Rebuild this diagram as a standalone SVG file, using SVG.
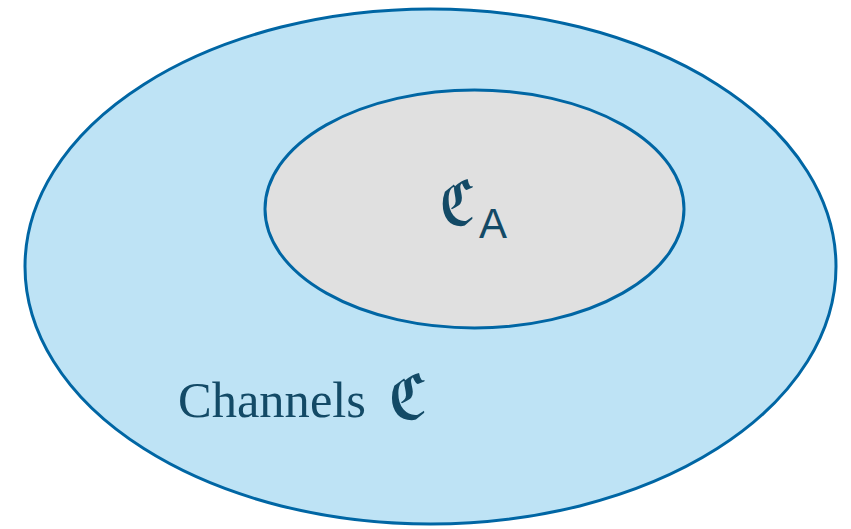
<svg xmlns="http://www.w3.org/2000/svg" width="851" height="529" viewBox="0 0 851 529">
<style>
.set{stroke:#0066a4;stroke-width:3}
.lbl{fill:#134a66}
.frak{font-family:"DejaVu Serif","DejaVu Sans",serif;font-size:62px;font-weight:bold}
.sub{font-family:"Liberation Sans",sans-serif;font-size:42px}
</style>
<rect width="851" height="529" fill="#ffffff"/>
<g id="channels">
<ellipse class="set" cx="430.5" cy="266.5" rx="405.5" ry="257.5" fill="#bee3f5"/>
<text class="lbl" x="178" y="417" font-family="Liberation Serif, serif" font-size="50" textLength="188" lengthAdjust="spacingAndGlyphs">Channels</text>
<text class="lbl frak" x="389" y="419" textLength="38" lengthAdjust="spacingAndGlyphs">ℭ</text>
</g>
<g id="channels-a">
<ellipse class="set" cx="474.5" cy="209" rx="209.5" ry="119" fill="#e0e0e0"/>
<text class="lbl frak" x="440" y="225" textLength="35" lengthAdjust="spacingAndGlyphs">ℭ</text>
<text class="lbl sub" x="479" y="238">A</text>
</g>
<g id="connectors"></g>
</svg>
